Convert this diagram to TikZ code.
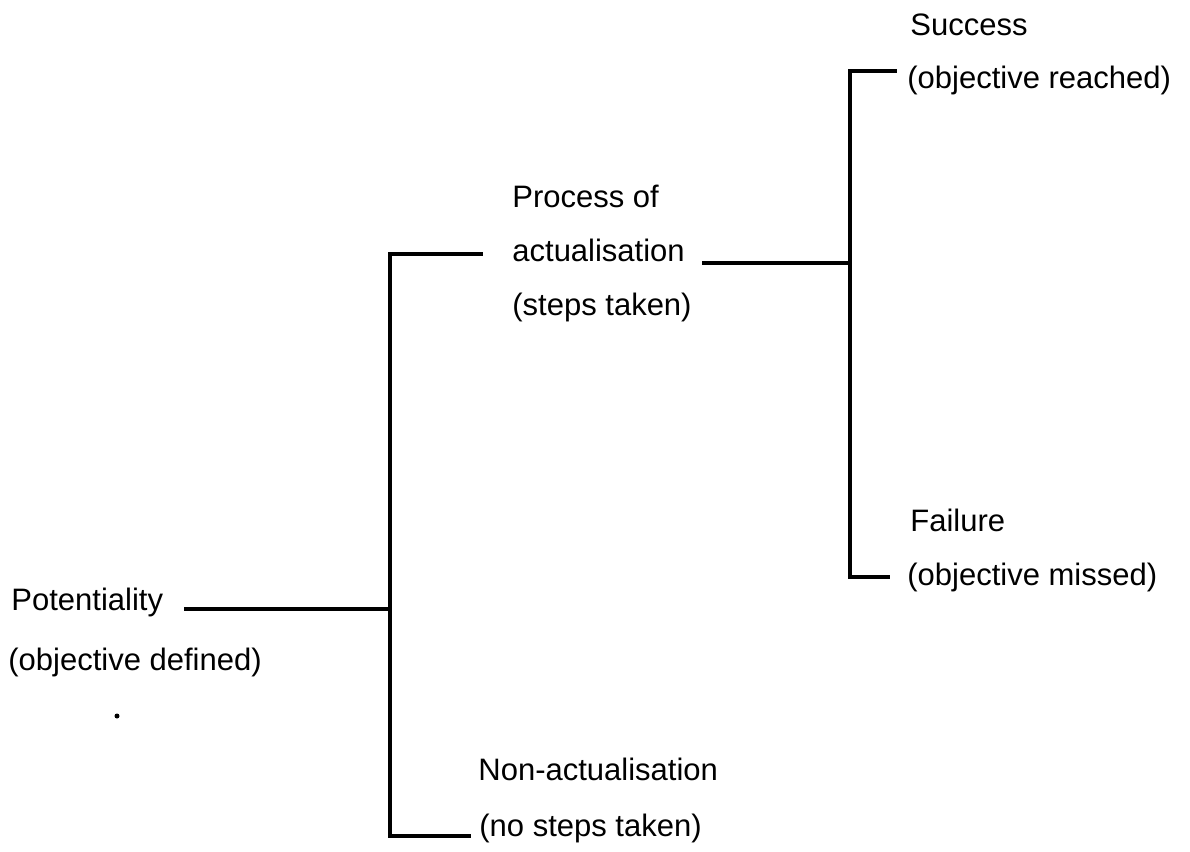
\documentclass[tikz,border=0pt]{standalone}
\usepackage{fontspec}
\setmainfont{Liberation Sans}
\begin{document}
\begin{tikzpicture}[x=0.5pt,y=-0.5pt,
  lbl/.style={anchor=base west,inner sep=0pt,font=\fontsize{15.5}{18}\selectfont},
  br/.style={line width=1.7pt,line cap=rect}]
\useasboundingbox (0,0) rectangle (1190,852);
% labels
\node[lbl] (pot) at (11,610) {Potentiality};
\node[lbl] (potd) at (8,670) {(objective defined)};
\node[lbl] (proc) at (512,207) {Process of};
\node[lbl] (act) at (512,261) {actualisation};
\node[lbl] (actd) at (512,315) {(steps taken)};
\node[lbl] (non) at (478,780) {Non-actualisation};
\node[lbl] (nond) at (479,836) {(no steps taken)};
\node[lbl] (suc) at (910,35) {Success};
\node[lbl] (sucd) at (907,88) {(objective reached)};
\node[lbl] (fail) at (910,531) {Failure};
\node[lbl] (faild) at (907,585) {(objective missed)};
\fill (117,716) circle (2.5);
% junction coordinates
\coordinate (a0) at (186,609);
\coordinate (a1) at (390,609);
\coordinate (at) at (390,254);
\coordinate (atr) at (481,254);
\coordinate (ab) at (390,836);
\coordinate (abr) at (469,836);
\coordinate (b0) at (704,263);
\coordinate (b1) at (850,263);
\coordinate (bt) at (850,71);
\coordinate (btr) at (895,71);
\coordinate (bb) at (850,577);
\coordinate (bbr) at (888,577);
% connectors
\draw[br] (a0) -- (a1);
\draw[br] (atr) -- (at) -- (ab) -- (abr);
\draw[br] (b0) -- (b1);
\draw[br] (btr) -- (bt) -- (bb) -- (bbr);
\end{tikzpicture}
\end{document}
